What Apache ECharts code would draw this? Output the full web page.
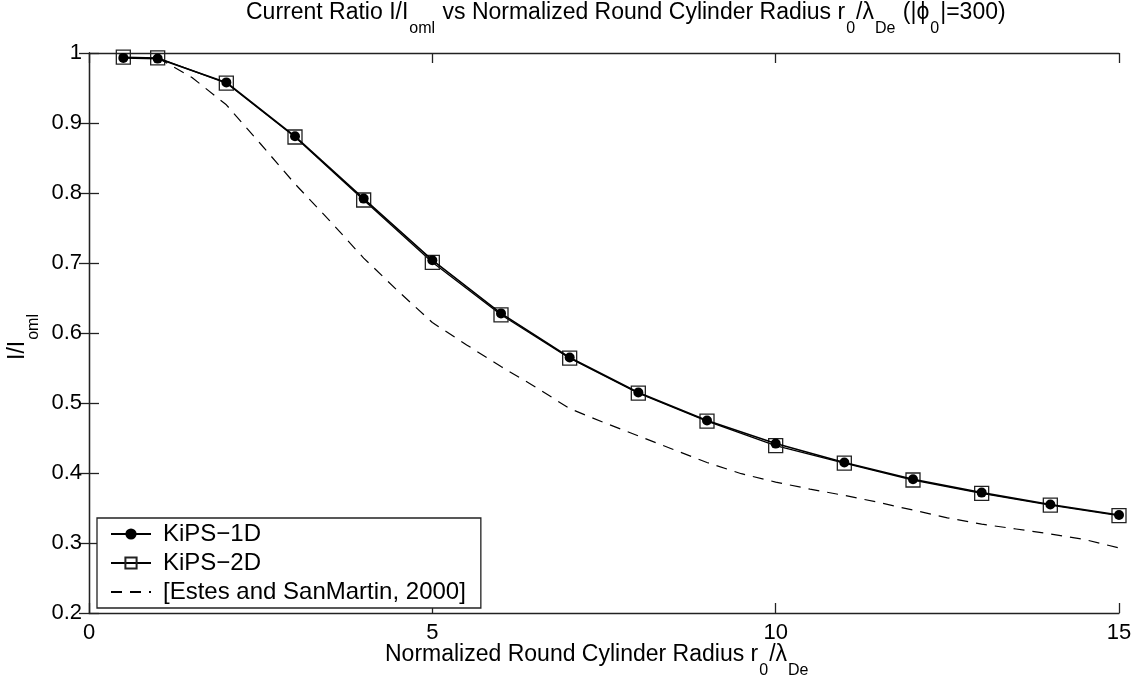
<!DOCTYPE html>
<html>
<head>
<meta charset="utf-8">
<script src="https://cdn.jsdelivr.net/npm/echarts@6/dist/echarts.min.js"></script>
<style>
html,body{margin:0;padding:0;background:#fff;}
#chart{width:1146px;height:681px;}
</style>
</head>
<body>
<div id="chart"></div>
<script>
// ---- data ----
const xValues = [0.5, 1, 2, 3, 4, 5, 6, 7, 8, 9, 10, 11, 12, 13, 14, 15];
const kips1D = [0.993, 0.992, 0.958, 0.881, 0.792, 0.704, 0.628, 0.565, 0.515, 0.475, 0.442, 0.415, 0.391, 0.372, 0.355, 0.340];
const kips2D = [0.994, 0.993, 0.957, 0.880, 0.790, 0.701, 0.626, 0.564, 0.514, 0.474, 0.439, 0.414, 0.390, 0.371, 0.354, 0.339];
const estesX = [1, 1.5, 2, 2.5, 3, 3.5, 4, 4.5, 5, 5.5, 6, 6.5, 7, 7.5, 8, 8.5, 9, 9.5, 10, 10.5, 11, 11.5, 12, 12.5, 13, 13.5, 14, 14.5, 15];
const estesY = [0.993, 0.965, 0.926, 0.870, 0.813, 0.761, 0.707, 0.660, 0.615, 0.583, 0.552, 0.523, 0.492, 0.472, 0.453, 0.434, 0.415, 0.399, 0.387, 0.377, 0.368, 0.358, 0.347, 0.336, 0.327, 0.320, 0.313, 0.305, 0.293];
const xTickLabels = ['0', '5', '10', '15'];
const yTickLabels = ['0.2', '0.3', '0.4', '0.5', '0.6', '0.7', '0.8', '0.9', '1'];
const seriesNames = ['KiPS\u22121D', 'KiPS\u22122D', '[Estes and SanMartin, 2000]'];

// ---- chart ----
const FONT = '"Liberation Sans", Arial, Helvetica, sans-serif';
const chart = echarts.init(document.getElementById('chart'), null, {renderer: 'canvas'});
const pairs = (xs, ys) => xs.map((x, i) => [x, ys[i]]);
const axisCol = '#222';
const rich = {
  m: {fontSize: 23, fontFamily: FONT, color: '#000', lineHeight: 24, verticalAlign: 'top'},
  s: {fontSize: 16, fontFamily: FONT, color: '#000', lineHeight: 17, verticalAlign: 'top', padding: [20, 1, 0, 1]}
};
const baseAxis = {
  axisLine: {show: true, lineStyle: {color: axisCol, width: 1.3}},
  axisTick: {show: true, inside: true, length: 10, lineStyle: {color: axisCol, width: 1.3}},
  splitLine: {show: false}
};

const option = {
  backgroundColor: '#fff',
  animation: false,
  grid: {left: 89, top: 53, width: 1030, height: 560, containLabel: false},
  xAxis: [
    Object.assign({}, baseAxis, {
      type: 'value', min: 0, max: 15, interval: 5, position: 'bottom',
      axisLabel: {show: true, margin: 9, fontSize: 22, fontFamily: FONT, color: '#000',
        formatter: v => xTickLabels[Math.round(v / 5)]}
    }),
    Object.assign({}, baseAxis, {
      type: 'value', min: 0, max: 15, interval: 5, position: 'top',
      axisLabel: {show: false}
    })
  ],
  yAxis: [
    Object.assign({}, baseAxis, {
      type: 'value', min: 0.2, max: 1, interval: 0.1, position: 'left',
      axisLabel: {show: true, margin: 7, fontSize: 22, fontFamily: FONT, color: '#000',
        formatter: v => yTickLabels[Math.round((v - 0.2) * 10)]}
    }),
    Object.assign({}, baseAxis, {
      type: 'value', min: 0.2, max: 1, interval: 0.1, position: 'right',
      axisLabel: {show: false}
    })
  ],
  legend: {
    show: true,
    orient: 'vertical',
    left: 97, top: 518,
    data: seriesNames,
    itemWidth: 40, itemHeight: 14, itemGap: 5,
    padding: [4, 15, 4, 13],
    borderColor: '#222', borderWidth: 1.3,
    backgroundColor: '#fff',
    textStyle: {fontSize: 24, fontFamily: FONT, color: '#000', lineHeight: 24, padding: [0, 0, 0, 7]},
    selectedMode: false
  },
  series: [
    {
      name: seriesNames[2], type: 'line', data: pairs(estesX, estesY),
      symbol: 'none', showSymbol: false,
      lineStyle: {color: '#000', width: 1.2, type: [11, 8]},
      itemStyle: {color: 'transparent', borderWidth: 0}, z: 2
    },
    {
      name: seriesNames[1], type: 'line', data: pairs(xValues, kips2D),
      symbol: 'rect', symbolSize: 14,
      lineStyle: {color: '#000', width: 1.3},
      itemStyle: {color: 'transparent', borderColor: '#222', borderWidth: 1.3}, z: 3
    },
    {
      name: seriesNames[0], type: 'line', data: pairs(xValues, kips1D),
      symbol: 'circle', symbolSize: 10,
      lineStyle: {color: '#000', width: 1.6},
      itemStyle: {color: '#000', borderWidth: 0}, z: 4
    }
  ],
  graphic: [
    {
      type: 'text', left: 246, top: 1,
      style: {
        text: '{m|Current Ratio I/I}{s|oml}{m| vs Normalized Round Cylinder Radius r}{s|0}{m|/\u03bb}{s|De}{m| (|\u03d5}{s|0}{m||=300)}',
        rich: rich
      }
    },
    {
      type: 'text', left: 385, top: 643,
      style: {
        text: '{m|Normalized Round Cylinder Radius r}{s|0}{m|/\u03bb}{s|De}',
        rich: rich
      }
    },
    {
      type: 'text', x: 6, y: 360, rotation: Math.PI / 2,
      style: {
        text: '{m|I/I}{s|oml}',
        rich: rich, align: 'left', verticalAlign: 'top'
      }
    }
  ]
};
chart.setOption(option);
</script>
</body>
</html>
